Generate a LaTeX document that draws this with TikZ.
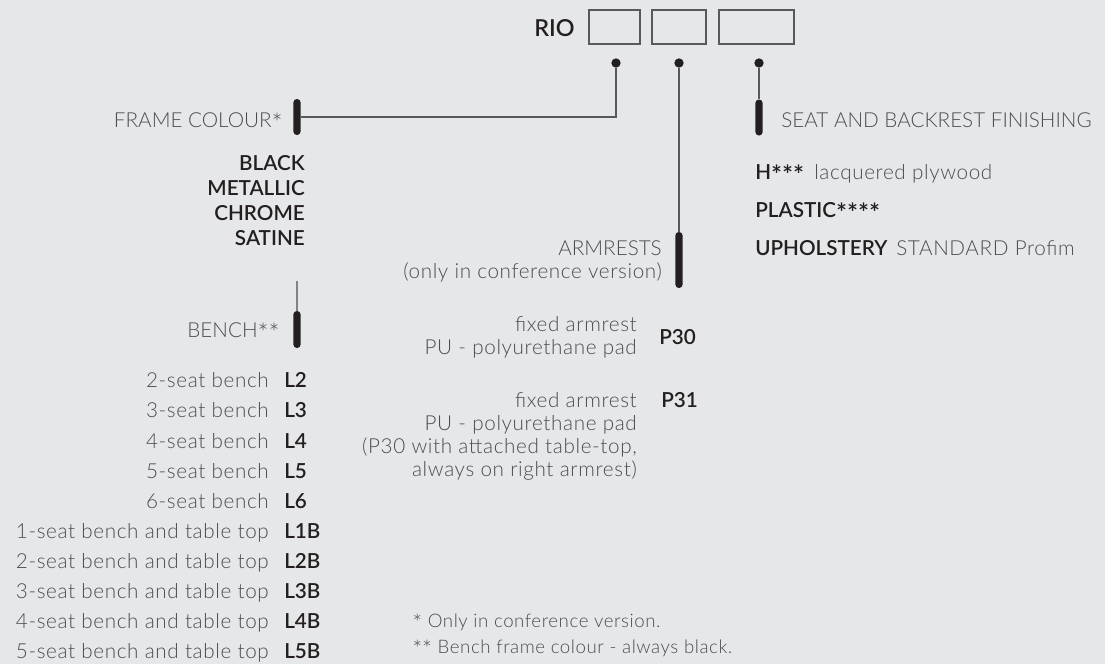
\documentclass[tikz,border=0pt]{standalone}
\usepackage{fontspec}
\IfFontExistsTF{Lato Light}{\newfontfamily\rlight{Lato Light}\newfontfamily\rlightsp{Lato Light}[LetterSpace=3]}{\newfontfamily\rlight{Lato}\newfontfamily\rlightsp{Lato}[LetterSpace=3]}
\IfFontExistsTF{Lato Semibold}{\newfontfamily\rbold{Lato Semibold}}{\newfontfamily\rboldbase{Lato}\def\rbold{\rboldbase\bfseries}}
\definecolor{bg}{HTML}{E6E7E9}
\definecolor{txt}{HTML}{4D4D4F}
\definecolor{dark}{HTML}{231F20}
\definecolor{ln}{HTML}{58595B}
\newcommand\sstar{\raisebox{-3.8pt}{\fontsize{19.5}{19.5}\selectfont *}}
\newcommand\fstar{\raisebox{-3.3pt}{\fontsize{17.5}{17.5}\selectfont *}}
\tikzset{
  ltc/.style={inner sep=0pt, text height=11pt, text depth=0pt, text=txt, font=\rlight\fontsize{15.5}{18}\selectfont},
  lt/.style={inner sep=0pt, text height=11pt, text depth=0pt, text=txt, font=\rlightsp\fontsize{15.5}{18}\selectfont},
  bd/.style={inner sep=0pt, text height=11pt, text depth=0pt, text=dark, font=\rbold\fontsize{15.5}{18}\selectfont},
  fn/.style={inner sep=0pt, text height=9.8pt, text depth=0pt, text=txt, font=\rlightsp\fontsize{14}{16}\selectfont},
  codebox/.style={draw=ln, line width=0.8pt, minimum height=25.5pt, inner sep=0pt},
  pin/.style={circle, fill=dark, minimum size=7pt, inner sep=0pt},
  bar/.style={fill=dark, rounded corners=2.6pt, minimum width=5.4pt, inner sep=0pt},
  conn/.style={draw=ln, line width=0.9pt},
}
\begin{document}
\begin{tikzpicture}[x=0.75pt, y=-0.75pt]
\useasboundingbox[fill=bg] (0,0) rectangle (1105,664);
% header
\node[bd, font=\rbold\fontsize{17.5}{20}\selectfont, text height=12.6pt, anchor=east] (rio) at (575,28) {RIO};
\node[codebox, minimum width=38.25pt] (b1) at (614.5,27) {};
\node[codebox, minimum width=40.5pt] (b2) at (679,27) {};
\node[codebox, minimum width=56.25pt] (b3) at (756.5,27) {};
\node[pin] (d1) at (616,63) {};
\node[pin] (d2) at (679,63) {};
\node[pin] (d3) at (759,63) {};
% bars
\node[bar, minimum height=27pt] (barframe) at (297,117) {};
\node[bar, minimum height=27pt] (barseat) at (759,117.5) {};
\node[bar, minimum height=42pt] (bararm) at (679,260) {};
\node[bar, minimum height=27.75pt] (barbench) at (297,329.5) {};
\coordinate (benchtop) at (297,281);
% connectors
\draw[conn] (d1) |- (barframe);
\draw[conn] (d2) -- (bararm);
\draw[conn] (d3) -- (barseat);
\draw[conn, draw=ln!75] (benchtop) -- (barbench);
% frame colour
\node[ltc, anchor=east] (frame) at (283,120) {FRAME COLOUR\sstar};
\node[bd, anchor=east] (black) at (305,163) {BLACK};
\node[bd, anchor=east] (metallic) at (305,188) {METALLIC};
\node[bd, anchor=east] (chrome) at (305,213) {CHROME};
\node[bd, anchor=east] (satine) at (305,238) {SATINE};
% bench
\node[ltc, anchor=east] (bench) at (280,330) {BENCH\sstar\sstar};
\foreach \lab/\code [count=\i from 0] in {2-seat bench/L2, 3-seat bench/L3, 4-seat bench/L4, 5-seat bench/L5, 6-seat bench/L6, 1-seat bench and table top/L1B, 2-seat bench and table top/L2B, 3-seat bench and table top/L3B, 4-seat bench and table top/L4B, 5-seat bench and table top/L5B}{
  \node[lt, anchor=east] (bl\i) at (269,380.5+30.1*\i) {\lab};
  \node[bd, anchor=west] (bc\i) at (284,380.5+30.1*\i) {\code};
}
% armrests
\node[ltc, anchor=east] (arm1) at (662,248) {ARMRESTS};
\node[lt, anchor=east] (arm2) at (662,271) {(only in conference version)};
\node[lt, anchor=east] (p30a) at (637,324) {fixed armrest};
\node[lt, anchor=east] (p30b) at (637,347) {PU - polyurethane pad};
\node[bd, anchor=west] (p30) at (659,337) {P30};
\node[lt, anchor=east] (p31a) at (637,400) {fixed armrest};
\node[lt, anchor=east] (p31b) at (637,423) {PU - polyurethane pad};
\node[lt, anchor=east] (p31c) at (637,446) {(P30 with attached table-top,};
\node[lt, anchor=east] (p31d) at (637,469) {always on right armrest)};
\node[bd, anchor=west] (p31) at (661,400) {P31};
% seat
\node[ltc, anchor=west] (seat) at (781,120) {SEAT AND BACKREST FINISHING};
\node[bd, anchor=west] (h) at (755,172) {H\sstar\sstar\sstar};
\node[lt, anchor=west] (hdesc) at (814,172) {lacquered plywood};
\node[bd, anchor=west] (plastic) at (755,210) {PLASTIC\sstar\sstar\sstar\sstar};
\node[bd, anchor=west] (uph) at (755,248) {UPHOLSTERY};
\node[lt, anchor=west] (uphdesc) at (896,248) {STANDARD Profim};
% footnotes
\node[fn, anchor=west] (fn1) at (412,621) {\fstar{} Only in conference version.};
\node[fn, anchor=west] (fn2) at (412,647) {\fstar\fstar{} Bench frame colour - always black.};
\end{tikzpicture}
\end{document}
